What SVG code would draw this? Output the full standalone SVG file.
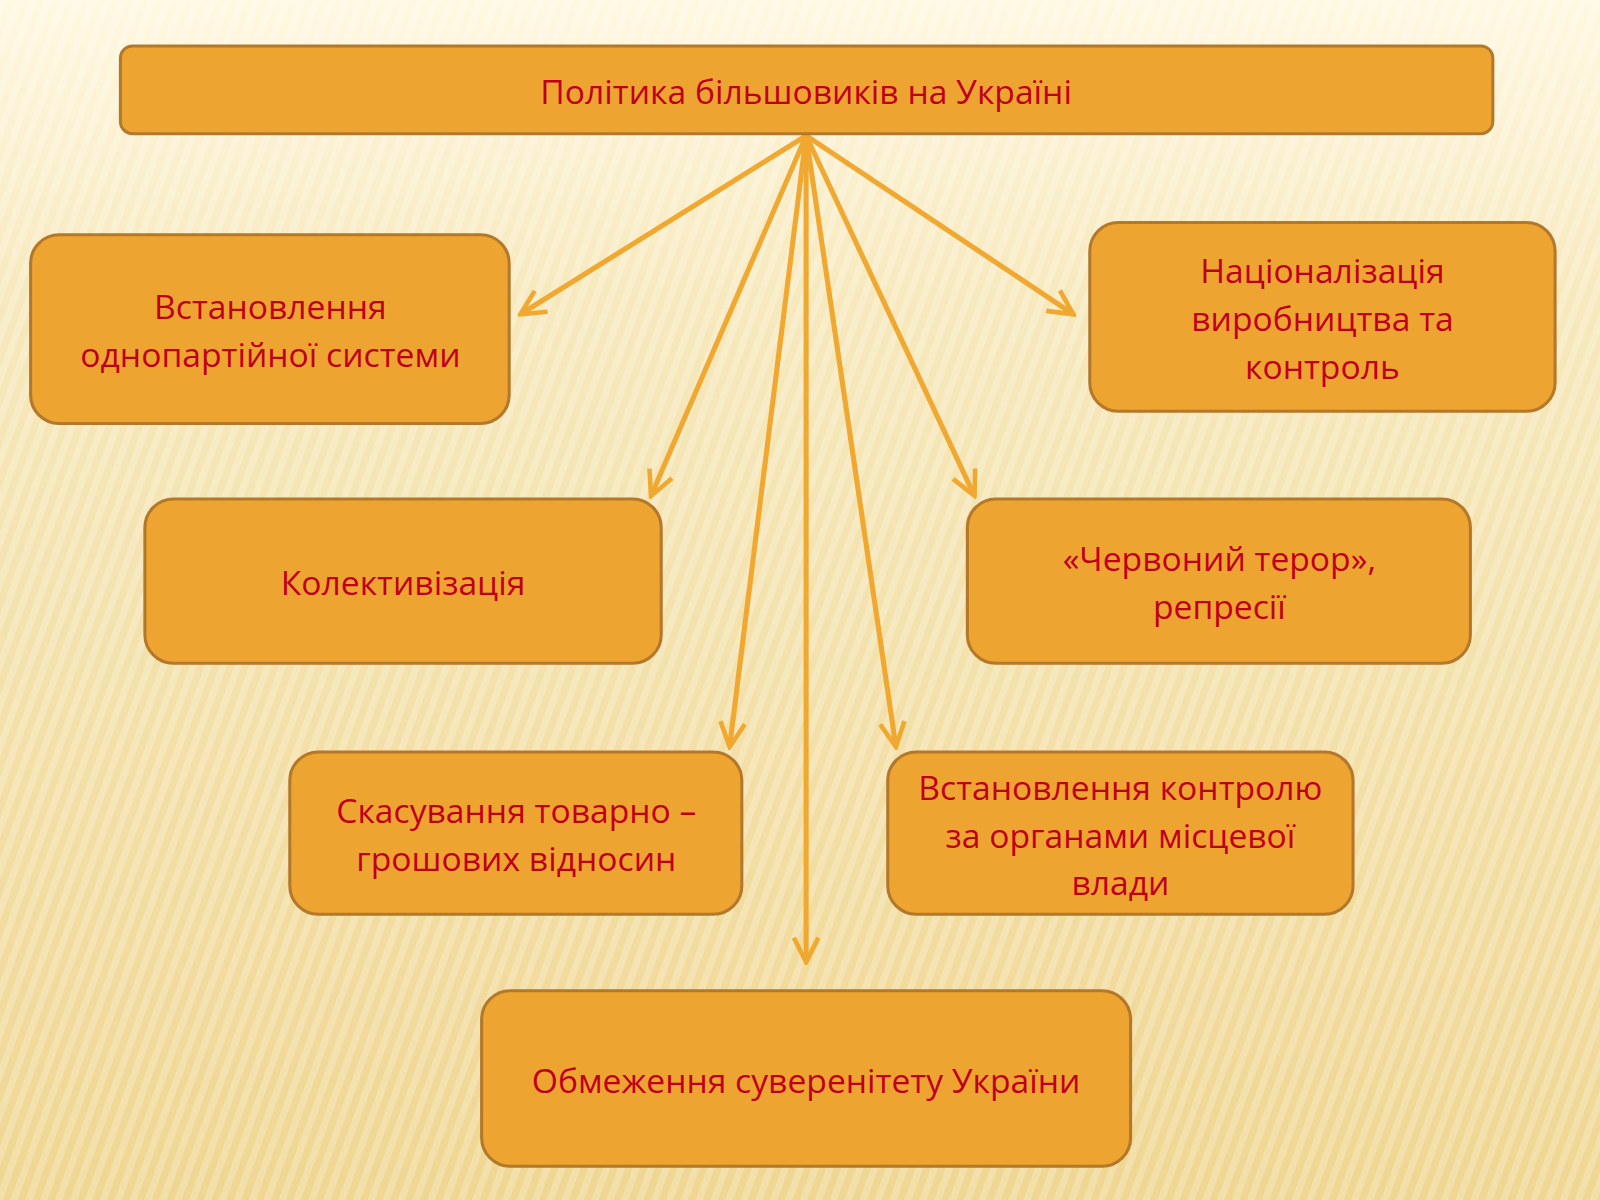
<svg xmlns="http://www.w3.org/2000/svg" width="1600" height="1200" viewBox="0 0 1600 1200">
<defs>
<linearGradient id="bg" x1="0" y1="0" x2="0" y2="1">
<stop offset="0" stop-color="#fff8e2"/>
<stop offset="0.25" stop-color="#f7e9bd"/>
<stop offset="1" stop-color="#efd692"/>
</linearGradient>
<pattern id="st" width="14" height="14" patternUnits="userSpaceOnUse" patternTransform="rotate(20)">
<rect width="7" height="14" fill="#ffffff" opacity="0.22"/>
</pattern>
<marker id="ah" viewBox="0 0 20 20" refX="18" refY="10" markerWidth="6" markerHeight="6" orient="auto" markerUnits="strokeWidth">
<polyline points="2,2 18,10 2,18" fill="none" stroke="#f0a830" stroke-width="3"/>
</marker>
<style>
.b{fill:#eea431;stroke:#b3782a;stroke-width:3}
.t{font-family:"Open Sans","Liberation Sans",sans-serif;font-size:33px;fill:#c0001a;text-anchor:middle}
.c{stroke:#f0a830;stroke-width:5;fill:none;marker-end:url(#ah)}
</style>
</defs>
<rect width="1600" height="1200" fill="url(#bg)"/>
<rect width="1600" height="1200" fill="url(#st)"/>
<g transform="scale(1.0204)">
<g id="connectors">
<line class="c" x1="790" y1="133" x2="510" y2="308"/>
<line class="c" x1="790" y1="133" x2="638" y2="486"/>
<line class="c" x1="790" y1="133" x2="715" y2="732"/>
<line class="c" x1="790" y1="133" x2="790" y2="943"/>
<line class="c" x1="790" y1="133" x2="878" y2="732"/>
<line class="c" x1="790" y1="133" x2="955" y2="486"/>
<line class="c" x1="790" y1="133" x2="1052" y2="308"/>
</g>
<g id="top"><rect class="b" x="118" y="45" width="1345" height="86" rx="12"/><text class="t" x="790" y="102">Політика більшовиків на Україні</text></g>
<g id="n1"><rect class="b" x="30" y="230" width="469" height="185" rx="28"/><text class="t" x="265" y="313">Встановлення</text><text class="t" x="265" y="360">однопартійної системи</text></g>
<g id="n2"><rect class="b" x="1068" y="218" width="456" height="185" rx="28"/><text class="t" x="1296" y="277">Націоналізація</text><text class="t" x="1296" y="324">виробництва та</text><text class="t" x="1296" y="371">контроль</text></g>
<g id="n3"><rect class="b" x="142" y="489" width="506" height="161" rx="28"/><text class="t" x="395" y="583">Колективізація</text></g>
<g id="n4"><rect class="b" x="948" y="489" width="493" height="161" rx="28"/><text class="t" x="1195" y="560">«Червоний терор»,</text><text class="t" x="1195" y="607">репресії</text></g>
<g id="n5"><rect class="b" x="284" y="737" width="443" height="159" rx="28"/><text class="t" x="506" y="807">Скасування товарно –</text><text class="t" x="506" y="854">грошових відносин</text></g>
<g id="n6"><rect class="b" x="870" y="737" width="456" height="159" rx="28"/><text class="t" x="1098" y="784">Встановлення контролю</text><text class="t" x="1098" y="831">за органами місцевої</text><text class="t" x="1098" y="877">влади</text></g>
<g id="n7"><rect class="b" x="472" y="971" width="636" height="172" rx="28"/><text class="t" x="790" y="1071">Обмеження суверенітету України</text></g>
</g>
</svg>
